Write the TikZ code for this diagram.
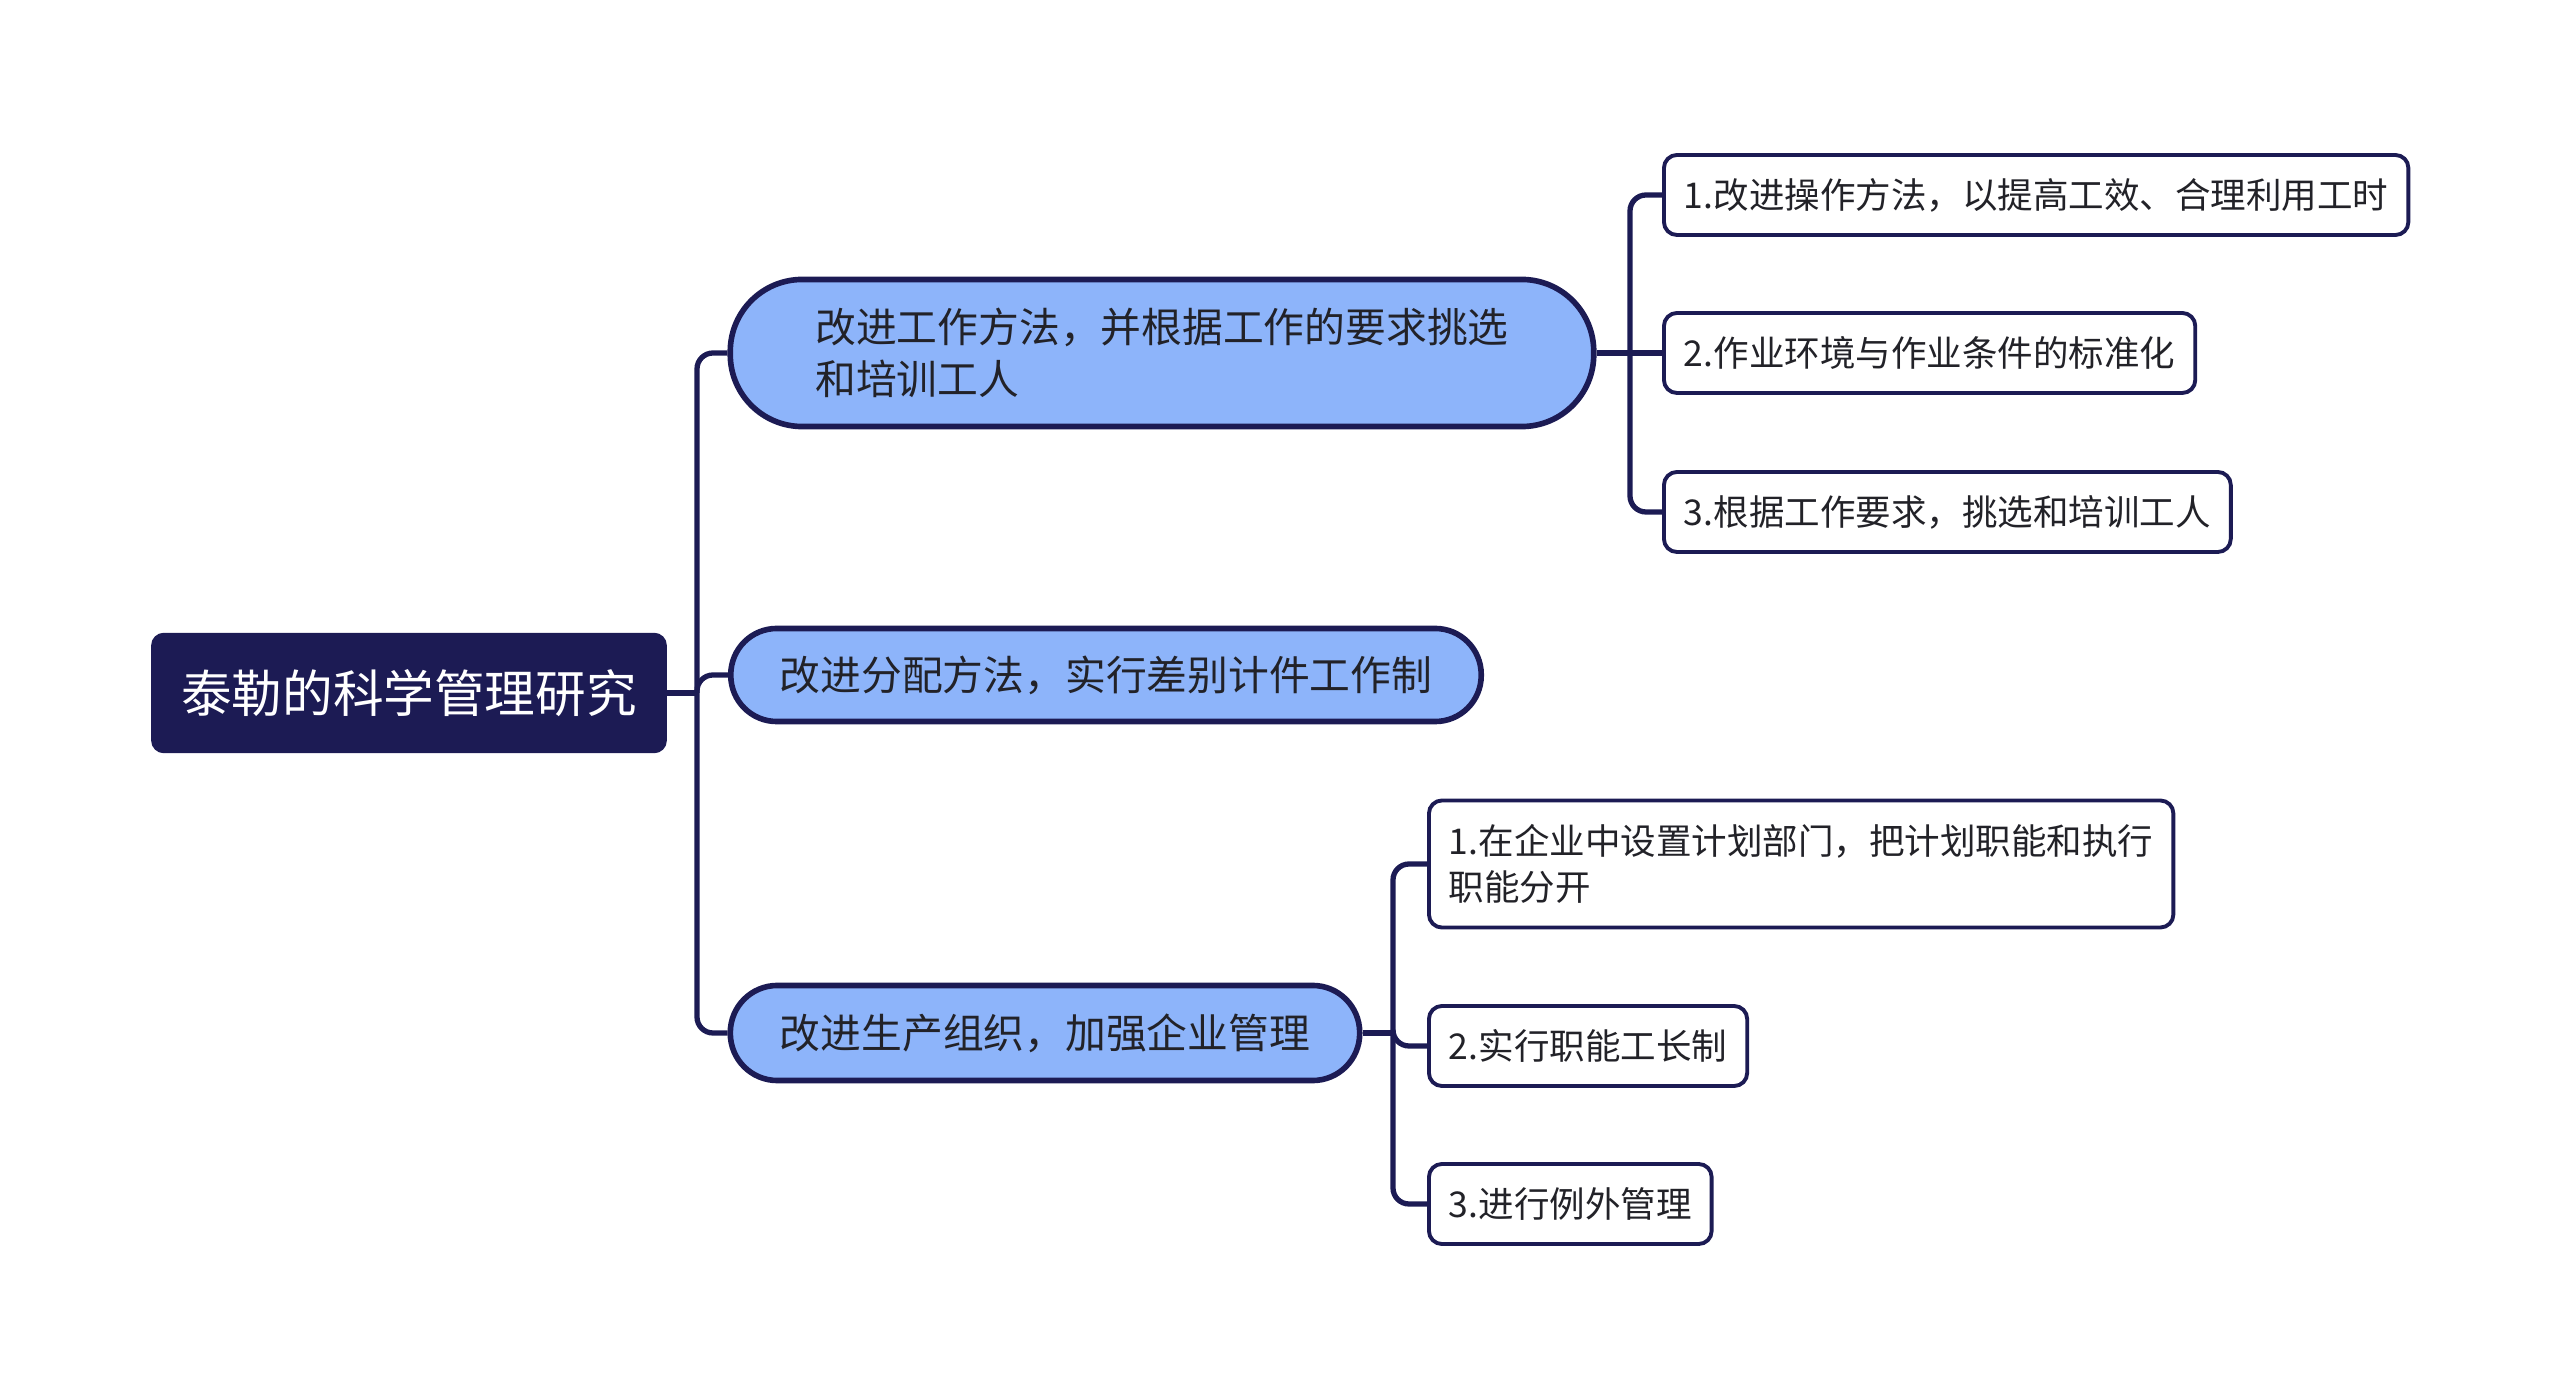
\documentclass[tikz,border=0pt]{standalone}
\usepackage{fontspec}
\setmainfont{Noto Sans CJK SC}
\definecolor{navy}{RGB}{28,27,84}
\definecolor{skyfill}{RGB}{141,180,250}
\definecolor{inktext}{RGB}{34,34,40}
\usepackage{tikz}
\usetikzlibrary{
  positioning,
  calc
}

\begin{document}
\begin{tikzpicture}[
  x=0.01cm, y=-0.01cm,
  root/.style={rectangle, rounded corners=1.2mm, fill=navy, draw=navy, text=white, minimum width=5.14cm, minimum height=1.19cm, font=\fontsize{14.4}{17}\selectfont},
  topic/.style={rectangle, draw=navy, line width=1.6pt, fill=skyfill, text=inktext, align=left, font=\fontsize{11.6}{14.8}\selectfont},
  leaf/.style={rectangle, rounded corners=1.3mm, draw=navy, line width=1.1pt, fill=white, text=inktext, align=left, inner xsep=2mm, minimum height=0.8cm, font=\fontsize{10.1}{13}\selectfont},
  link/.style={navy, line width=1.5pt, rounded corners=1.6mm}
]
  \useasboundingbox (0,0) rectangle (2560,1398);

  \node[root] (taylor) at (409,693) {泰勒的科学管理研究};

  \node[topic, rounded corners=7.2mm, minimum width=8.63cm, minimum height=1.47cm] (method) at (1162,353) {改进工作方法，并根据工作的要求挑选\\和培训工人};
  \node[topic, rounded corners=4.6mm, minimum width=7.50cm, minimum height=0.93cm] (pay) at (1106,675) {改进分配方法，实行差别计件工作制};
  \node[topic, rounded corners=4.7mm, minimum width=6.29cm, minimum height=0.95cm] (organize) at (1045,1033) {改进生产组织，加强企业管理};

  \node[leaf, anchor=west] (op) at (1662,195) {1.改进操作方法，以提高工效、合理利用工时};
  \node[leaf, anchor=west] (env) at (1662,353) {2.作业环境与作业条件的标准化};
  \node[leaf, anchor=west] (train) at (1662,512) {3.根据工作要求，挑选和培训工人};

  \node[leaf, anchor=west, minimum height=1.27cm] (plan) at (1427,864) {1.在企业中设置计划部门，把计划职能和执行\\职能分开};
  \node[leaf, anchor=west] (foreman) at (1427,1046) {2.实行职能工长制};
  \node[leaf, anchor=west] (exception) at (1427,1204) {3.进行例外管理};

  \coordinate (hub) at (697,693);
  \coordinate (hubA) at (1630,353);
  \coordinate (hubC) at (1393,1033);

  \draw[link] (taylor.east) -- (hub);
  \draw[link] (hub) |- (method.west);
  \draw[link] (hub) |- (pay.west);
  \draw[link] (hub) |- (organize.west);

  \draw[link] (method.east) -- (hubA);
  \draw[link] (hubA) |- (op.west);
  \draw[link] (hubA) -- (env.west);
  \draw[link] (hubA) |- (train.west);

  \draw[link] (organize.east) -- (hubC);
  \draw[link] (hubC) |- (plan.west);
  \draw[link] (hubC) |- (foreman.west);
  \draw[link] (hubC) |- (exception.west);
\end{tikzpicture}
\end{document}
